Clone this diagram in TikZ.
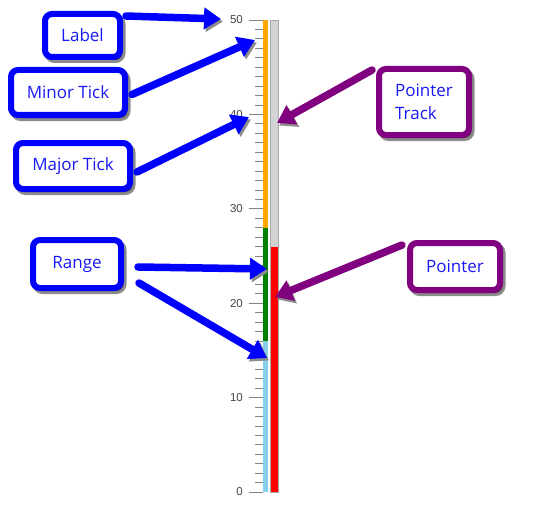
\documentclass[tikz,border=0pt]{standalone}
\usepackage{fontspec}
\setmainfont{Open Sans}
\newfontfamily\scalefont{Liberation Sans}
\usetikzlibrary{arrows.meta,shadows,calc}
\definecolor{cblue}{RGB}{0,0,255}
\definecolor{cpurple}{RGB}{128,0,128}
\definecolor{ctext}{RGB}{25,25,245}
\definecolor{corange}{RGB}{255,165,0}
\definecolor{cgreen}{RGB}{0,128,0}
\definecolor{csky}{RGB}{135,206,235}
\definecolor{ctrack}{RGB}{211,211,211}
\definecolor{ctrackb}{RGB}{170,170,170}
\definecolor{ctick}{RGB}{130,130,130}
\definecolor{cnum}{RGB}{68,68,68}
\begin{document}
\begin{tikzpicture}[x=1pt,y=-1pt,
  callout/.style={draw, line width=6pt, rounded corners=7pt, fill=white, text=ctext,
    font=\fontsize{17}{23}\selectfont, inner sep=0pt,
    drop shadow={shadow xshift=2.5pt, shadow yshift=-3pt, opacity=0.45, fill=black, draw=black, line width=6pt}},
  bluebox/.style={callout, draw=cblue},
  purplebox/.style={callout, draw=cpurple},
  fatarrow/.style={line width=7.5pt, line cap=round, -{Triangle[length=17pt,width=21pt]},
    preaction={draw=black!45, transform canvas={shift={(2pt,-2.5pt)}}}},
  bluearrow/.style={fatarrow, draw=cblue},
  purplearrow/.style={fatarrow, draw=cpurple},
  majortick/.style={draw=ctick, line width=0.9pt},
  minortick/.style={draw=ctick, line width=0.8pt},
  numlabel/.style={anchor=east, inner sep=0pt, text=cnum, font=\scalefont\fontsize{11.5}{12}\selectfont},
]
\fill[white] (0,0) rectangle (548,516);
\useasboundingbox (0,0) rectangle (548,516);

% scale: y(v) = 492 - 9.44 v
\foreach \v in {0,...,50}{
  \draw[minortick] (255,{492-9.44*\v}) -- (263,{492-9.44*\v});
}
\foreach \v in {0,10,...,50}{
  \draw[majortick] (249,{492-9.44*\v}) -- (263,{492-9.44*\v});
  \node[numlabel] (n\v) at (243,{492-9.44*\v}) {\v};
}
% ranges
\fill[csky] (263,492) rectangle (268,{492-9.44*16});
\fill[cgreen] (263,{492-9.44*16}) rectangle (268,{492-9.44*28});
\fill[corange] (263,{492-9.44*28}) rectangle (268,{492-9.44*50});
% pointer track and pointer
\draw[fill=ctrack, draw=ctrackb, line width=0.8pt] (270.5,492) rectangle (278.5,{492-9.44*50});
\fill[red] (271,492) rectangle (277.8,{492-9.44*26});

% callouts
\node[bluebox, minimum width=75pt, minimum height=43pt] (lbl) at (82.5,35.5) {Label};
\node[bluebox, minimum width=114pt, minimum height=45pt] (mt) at (68,92.5) {Minor Tick};
\node[bluebox, minimum width=114pt, minimum height=46pt] (mj) at (73,166) {Major Tick};
\node[bluebox, minimum width=88pt, minimum height=48pt] (rg) at (77,264) {Range};
\node[purplebox, minimum width=90pt, minimum height=66pt, align=left] (ptr) at (424,102) {Pointer\\Track};
\node[purplebox, minimum width=90pt, minimum height=47pt] (pnt) at (455,266.5) {Pointer};

% targets
\coordinate (tLbl) at (221,19);
\coordinate (tMinor) at (255,40);
\coordinate (tMajor) at (249,117);
\coordinate (tRange1) at (267,269);
\coordinate (tRange2) at (267,358);
\coordinate (tTrack) at (277,123);
\coordinate (tPtr) at (275,297);

\draw[bluearrow] ($(lbl.north east)+(3,5)$) -- (tLbl);
\draw[bluearrow] ($(mt.east)+(4,2)$) -- (tMinor);
\draw[bluearrow] ($(mj.east)+(4,6)$) -- (tMajor);
\draw[bluearrow] ($(rg.east)+(14,3)$) -- (tRange1);
\draw[bluearrow] ($(rg.east)+(15,19)$) -- (tRange2);
\draw[purplearrow] ($(ptr.north west)+(-4,4)$) -- (tTrack);
\draw[purplearrow] ($(pnt.north west)+(-5,5)$) -- (tPtr);
\end{tikzpicture}
\end{document}
